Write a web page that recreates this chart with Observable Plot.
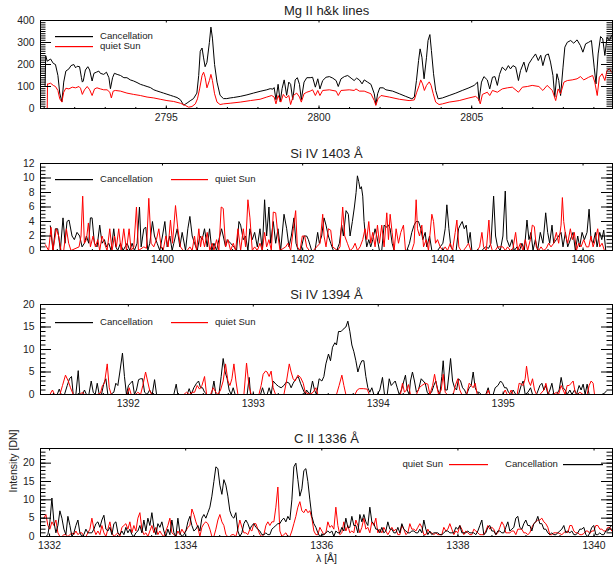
<!DOCTYPE html>
<html>
<head>
<meta charset="utf-8">
<script src="https://cdn.jsdelivr.net/npm/d3@7"></script>
<script src="https://cdn.jsdelivr.net/npm/@observablehq/plot@0.6"></script>
<style>
  html, body { margin: 0; padding: 0; background: #fff; }
  #wrap { width: 616px; }
  #wrap svg { display: block; }
</style>
</head>
<body>
<div id="wrap"></div>
<script>
// ---------------- DATA ----------------
// Mg II h&k : [wavelength Å, intensity DN]
const mgCanc = [[2791.03,100],[2791.05,240],[2791.10,215],[2791.21,225],[2791.30,205],[2791.37,200],[2791.45,150],[2791.51,70],[2791.58,30],[2791.64,120],[2791.71,170],[2791.81,180],[2791.88,195],[2791.97,200],[2792.03,185],[2792.08,192],[2792.16,190],[2792.22,140],[2792.25,120],[2792.28,125],[2792.35,175],[2792.43,190],[2792.49,175],[2792.57,125],[2792.63,160],[2792.71,165],[2792.79,170],[2792.84,160],[2792.95,155],[2793.04,165],[2793.12,140],[2793.17,90],[2793.24,140],[2793.30,160],[2793.39,155],[2793.50,150],[2793.61,140],[2793.71,140],[2793.82,130],[2793.93,125],[2794.04,118],[2794.15,110],[2794.26,105],[2794.37,100],[2794.48,95],[2794.59,85],[2794.69,80],[2794.80,75],[2794.91,70],[2795.02,65],[2795.13,60],[2795.24,55],[2795.35,50],[2795.46,40],[2795.57,15],[2795.68,25],[2795.78,35],[2795.89,45],[2796.00,70],[2796.06,150],[2796.11,260],[2796.17,275],[2796.22,230],[2796.27,190],[2796.33,210],[2796.41,300],[2796.46,370],[2796.51,320],[2796.58,200],[2796.66,120],[2796.76,60],[2796.87,45],[2796.98,45],[2797.09,48],[2797.20,50],[2797.42,55],[2797.64,62],[2797.85,70],[2798.07,78],[2798.29,85],[2798.40,90],[2798.49,88],[2798.53,95],[2798.59,40],[2798.66,110],[2798.73,30],[2798.79,90],[2798.86,130],[2798.94,60],[2799.01,120],[2799.07,110],[2799.14,40],[2799.22,130],[2799.29,140],[2799.36,110],[2799.42,40],[2799.51,120],[2799.60,140],[2799.71,140],
[2799.79,142],[2799.88,97],[2799.96,135],[2800.03,89],[2800.12,127],[2800.23,142],[2800.34,145],[2800.45,138],[2800.56,127],[2800.63,100],[2800.72,135],[2800.83,145],[2800.94,150],[2801.05,138],[2801.15,127],[2801.23,138],[2801.32,130],[2801.41,112],[2801.48,130],[2801.59,120],[2801.70,110],[2801.81,67],[2801.86,18],[2801.92,67],[2801.99,94],[2802.10,94],[2802.19,85],[2802.41,79],[2802.63,67],[2802.84,55],[2803.04,44],[2803.12,52],[2803.19,127],[2803.26,218],[2803.31,271],[2803.37,233],[2803.44,135],[2803.52,233],[2803.57,309],[2803.63,336],[2803.68,264],[2803.75,158],[2803.82,82],[2803.90,44],[2804.04,48],[2804.26,59],[2804.48,70],[2804.69,82],[2804.91,94],[2805.08,105],[2805.19,120],[2805.24,36],[2805.32,120],[2805.40,145],[2805.51,130],[2805.59,89],[2805.68,142],[2805.76,145],[2805.84,105],[2805.91,155],[2806.00,188],[2806.11,173],[2806.20,195],[2806.27,180],[2806.35,195],[2806.44,188],[2806.53,127],[2806.60,173],[2806.71,211],[2806.79,165],[2806.87,203],[2806.98,227],[2807.09,248],[2807.18,218],[2807.26,242],[2807.33,195],[2807.42,242],[2807.51,248],[2807.58,211],[2807.66,150],[2807.72,52],[2807.79,158],[2807.85,127],[2807.91,59],[2807.99,188],[2808.05,279],[2808.13,301],[2808.24,309],[2808.34,297],[2808.45,312],[2808.56,286],[2808.64,256],[2808.73,294],[2808.83,301],[2808.92,309],[2809.01,188],[2809.07,112],[2809.14,248],[2809.22,327],[2809.29,317],[2809.36,241],[2809.43,324],[2809.51,309],[2809.58,332]];

const mgQuiet = [[2791.10,0],[2791.11,112],[2791.15,112],[2791.21,115],[2791.30,105],[2791.37,100],[2791.45,82],[2791.51,44],[2791.58,29],[2791.64,74],[2791.71,92],[2791.81,89],[2791.92,97],[2792.03,94],[2792.14,100],[2792.19,92],[2792.25,64],[2792.32,85],[2792.41,100],[2792.49,85],[2792.57,59],[2792.65,89],[2792.73,94],[2792.84,89],[2792.95,85],[2793.06,85],[2793.15,74],[2793.20,48],[2793.26,79],[2793.33,82],[2793.50,79],[2793.71,70],[2793.93,64],[2794.15,59],[2794.37,52],[2794.59,48],[2794.80,42],[2795.02,36],[2795.24,32],[2795.46,24],[2795.62,14],[2795.73,6],[2795.84,9],[2795.95,21],[2796.02,44],[2796.09,89],[2796.17,150],[2796.22,165],[2796.27,142],[2796.33,94],[2796.41,127],[2796.46,155],[2796.51,127],[2796.58,67],[2796.66,29],[2796.76,18],[2796.87,21],[2797.09,24],[2797.42,29],[2797.75,36],[2798.07,42],[2798.29,52],[2798.45,59],[2798.53,52],[2798.59,21],[2798.66,59],[2798.75,29],[2798.83,64],[2798.92,48],[2799.01,59],[2799.07,18],[2799.16,59],[2799.27,70],[2799.36,52],[2799.42,29],[2799.51,67],[2799.60,74],[2799.71,79],
[2799.79,85],[2799.88,59],[2799.96,82],[2800.03,59],[2800.12,82],[2800.34,85],[2800.56,79],[2800.63,59],[2800.72,82],[2800.99,85],[2801.15,82],[2801.21,89],[2801.32,79],[2801.48,79],[2801.70,67],[2801.81,36],[2801.86,14],[2801.93,44],[2802.03,59],[2802.30,52],[2802.63,42],[2802.95,36],[2803.12,39],[2803.20,74],[2803.28,105],[2803.33,130],[2803.39,112],[2803.45,82],[2803.52,105],[2803.61,121],[2803.67,105],[2803.74,67],[2803.82,29],[2803.93,18],[2804.04,21],[2804.26,29],[2804.59,36],[2804.91,48],[2805.13,55],[2805.22,44],[2805.28,21],[2805.35,64],[2805.51,74],[2805.59,59],[2805.68,82],[2805.84,74],[2806.00,89],[2806.17,94],[2806.33,97],[2806.53,74],[2806.66,97],[2806.82,100],[2806.98,105],[2807.20,100],[2807.33,82],[2807.47,105],[2807.64,82],[2807.75,36],[2807.83,89],[2807.91,67],[2808.02,120],[2808.13,127],[2808.29,130],[2808.45,135],[2808.56,145],[2808.67,130],[2808.83,142],[2808.96,150],[2809.03,120],[2809.11,59],[2809.18,142],[2809.27,158],[2809.36,127],[2809.43,173],[2809.51,180],[2809.58,165]];

// Si IV 1403 : [wavelength Å, intensity DN]
const si1403Canc = [[1398.400,3.4],[1398.438,0],[1398.472,3],[1398.505,3],[1398.543,0],[1398.581,4.5],[1398.610,1],[1398.638,4],[1398.667,4.2],[1398.710,2],[1398.743,1.5],[1398.781,2.5],[1398.819,2],[1398.853,0.5],[1398.886,1],[1398.915,2],[1398.948,1],[1398.972,4.5],[1398.996,4.5],[1399.029,1],[1399.067,0.5],[1399.105,3.5],[1399.138,1],[1399.172,1.5],[1399.200,0.5],[1399.234,1],[1399.267,0],[1399.305,3],[1399.334,0.5],[1399.362,0],[1399.400,1],[1399.438,0],[1399.496,1],[1399.534,0],[1399.567,1],[1399.600,0],[1399.638,1],[1399.672,6],[1399.696,0.5],[1399.734,3],[1399.762,3.2],[1399.791,0],[1399.819,1],[1399.857,4],[1399.886,2],[1399.924,1],[1399.962,0],[1400.000,2],[1400.034,4],[1400.067,0.5],[1400.105,2],[1400.138,0],[1400.162,1],[1400.210,3],[1400.248,0.5],[1400.281,2.5],[1400.329,0],[1400.362,3],[1400.391,4.7],[1400.424,2],[1400.457,1],[1400.496,0],[1400.534,2],[1400.567,1.5],[1400.600,3],[1400.638,0.5],[1400.672,3],[1400.705,0],[1400.734,1],[1400.772,0],[1400.805,1.5],[1400.843,3],[1400.867,2],[1400.900,0.5],[1400.924,1.5],[1400.972,1],[1401.019,0.5],[1401.057,0],[1401.091,4],[1401.115,3.5],[1401.153,1.5],[1401.186,2],[1401.219,0],[1401.248,3],[1401.281,1.5],[1401.315,2.5],[1401.353,0.5],[1401.391,3],[1401.424,0],[1401.457,7],[1401.486,2],[1401.519,6],[1401.543,1],[1401.581,4],[1401.615,1],[1401.648,3],[1401.686,0],[1401.734,5],[1401.772,3],[1401.805,0.5],[1401.838,2],[1401.876,4.5],[1401.905,1],[1401.938,0],[1401.972,0],[1402.019,2],[1402.057,2],
[1402.081,1.5],[1402.128,0],[1402.176,0],[1402.214,2.5],[1402.238,1],[1402.271,2],[1402.305,4.5],[1402.333,3.5],[1402.367,2],[1402.400,1],[1402.438,0],[1402.486,0],[1402.524,1],[1402.557,3.5],[1402.581,2],[1402.619,5.5],[1402.652,5],[1402.676,2],[1402.709,4],[1402.738,6],[1402.762,8],[1402.781,10.3],[1402.800,9.5],[1402.819,8.5],[1402.838,8.8],[1402.857,7.5],[1402.876,4],[1402.895,2],[1402.914,0.5],[1402.943,1.5],[1402.971,0.5],[1403.000,1.5],[1403.033,3],[1403.057,2],[1403.095,0],[1403.128,0],[1403.162,3.5],[1403.190,3.2],[1403.224,3.5],[1403.248,3],[1403.276,1],[1403.305,0],[1403.486,0],[1403.524,1],[1403.557,2.5],[1403.590,3.5],[1403.619,4],[1403.652,4],[1403.686,3],[1403.714,1.5],[1403.748,2.5],[1403.771,0.5],[1403.810,2],[1403.843,0],[1403.924,0],[1403.962,0.5],[1404.000,1],[1404.033,3],[1404.057,6.3],[1404.086,3],[1404.114,0.5],[1404.152,0],[1404.190,0],[1404.224,3],[1404.248,3.5],[1404.276,4],[1404.305,3],[1404.333,3.5],[1404.362,1],[1404.390,2.5],[1404.414,0],[1404.557,0],[1404.605,0.5],[1404.652,0.3],[1404.686,1],[1404.724,7.5],[1404.752,2],[1404.781,0.5],[1404.819,0],[1404.857,2],[1404.890,8.2],[1404.914,1.5],[1404.952,0.5],[1404.986,1.5],[1405.019,0],[1405.057,0.5],[1405.095,0],[1405.128,1],[1405.162,0],[1405.200,4.2],[1405.228,1.5],[1405.257,2.5],[1405.286,0],[1405.319,1.5],[1405.352,0],[1405.390,2.5],[1405.428,1],[1405.467,5.2],[1405.495,2.5],[1405.524,1],[1405.557,3.5],[1405.581,1],[1405.619,1.5],[1405.652,2],[1405.686,2.5],[1405.714,0.5],[1405.748,2.5],[1405.781,0.5],[1405.819,1.5],[1405.857,2.5],[1405.890,0],[1405.924,2],[1405.952,0.5],[1405.986,2.5],[1406.019,1.5],[1406.057,2.5],[1406.086,5.7],[1406.114,1.5],[1406.143,1],[1406.176,2.5],[1406.200,0.5],[1406.238,2.5],[1406.267,1.5],[1406.295,2.8],[1406.324,0]];

const si1403Quiet = [[1398.329,0.8],[1398.376,0],[1398.410,3.2],[1398.438,0],[1398.486,3],[1398.519,2],[1398.553,0],[1398.591,0],[1398.629,3],[1398.662,1],[1398.695,0],[1398.810,0.5],[1398.838,2],[1398.862,7.5],[1398.886,1],[1398.915,1.5],[1398.943,3.8],[1398.972,0.5],[1399.010,2],[1399.043,0.5],[1399.077,1.5],[1399.105,0],[1399.138,2],[1399.172,1],[1399.210,0],[1399.248,3],[1399.281,0],[1399.315,2],[1399.343,0.5],[1399.376,3],[1399.410,0],[1399.448,3],[1399.486,0],[1399.524,3],[1399.553,0],[1399.591,0.5],[1399.629,6],[1399.657,0],[1399.734,0.5],[1399.772,0.3],[1399.805,7.2],[1399.838,1],[1399.876,0.5],[1399.914,1.5],[1399.948,3],[1399.981,0.5],[1400.010,0],[1400.048,2],[1400.081,0.5],[1400.114,4.2],[1400.143,1],[1400.186,6.2],[1400.219,3],[1400.257,0.5],[1400.295,0],[1400.352,0],[1400.391,0.5],[1400.424,0],[1400.457,2],[1400.486,0],[1400.519,3],[1400.543,0.5],[1400.567,2],[1400.600,0.5],[1400.638,2.5],[1400.676,0],[1400.710,1],[1400.734,0],[1400.772,1.5],[1400.805,0],[1400.838,6],[1400.867,5.8],[1400.900,0.5],[1400.934,1.5],[1400.972,0],[1401.010,1],[1401.043,0],[1401.077,3],[1401.115,0],[1401.153,3],[1401.186,0.5],[1401.219,7],[1401.248,4.5],[1401.281,0],[1401.315,0.5],[1401.353,0],[1401.391,1],[1401.424,0],[1401.457,2.5],[1401.486,0.5],[1401.519,1.5],[1401.553,0],[1401.581,5.3],[1401.615,5.2],[1401.648,2],[1401.677,0],[1401.757,0.5],[1401.791,1],[1401.829,0],[1401.867,3],[1401.900,5.5],[1401.924,0.5],[1401.962,0],[1401.995,2],[1402.029,2],[1402.057,0.5],
[1402.095,0],[1402.152,0],[1402.200,0.5],[1402.248,1],[1402.286,5],[1402.305,2],[1402.333,0.5],[1402.367,3],[1402.400,2.8],[1402.428,0.5],[1402.495,0],[1402.533,0.5],[1402.571,6],[1402.600,2],[1402.638,1],[1402.676,0],[1402.714,0.3],[1402.748,1],[1402.781,0],[1402.819,0.5],[1402.857,1.5],[1402.890,3],[1402.914,1.5],[1402.943,4],[1402.971,1],[1403.000,2.5],[1403.033,0.5],[1403.067,3.5],[1403.095,1],[1403.128,3.5],[1403.162,0.5],[1403.200,5.2],[1403.224,1.5],[1403.248,5],[1403.276,2.5],[1403.305,0],[1403.333,3],[1403.367,1],[1403.400,2.5],[1403.438,3.5],[1403.467,0],[1403.557,0],[1403.590,1],[1403.619,7],[1403.638,3],[1403.667,2],[1403.700,3.5],[1403.724,0.5],[1403.762,1.5],[1403.795,0],[1403.843,5],[1403.867,4],[1403.895,1],[1403.924,1.5],[1403.962,0.5],[1404.000,0],[1404.033,0.5],[1404.067,0],[1404.105,1],[1404.138,0],[1404.176,2.5],[1404.200,4.2],[1404.228,0.5],[1404.257,0],[1404.295,0],[1404.333,0.5],[1404.367,1],[1404.400,0],[1404.486,0],[1404.524,0.5],[1404.557,2.5],[1404.581,0.5],[1404.619,0],[1404.657,4.2],[1404.676,1],[1404.705,0],[1404.748,0],[1404.781,0.5],[1404.819,0.5],[1404.857,0.5],[1404.890,0],[1404.924,0.5],[1404.962,0],[1405.000,0.3],[1405.038,2.5],[1405.067,0],[1405.105,1],[1405.143,0],[1405.176,1.5],[1405.209,0],[1405.248,1.5],[1405.276,3.5],[1405.305,3.3],[1405.333,0.5],[1405.367,0],[1405.400,0.5],[1405.438,0],[1405.476,0.3],[1405.509,1],[1405.543,0.5],[1405.581,1],[1405.619,2.5],[1405.652,1],[1405.686,3.5],[1405.705,7.3],[1405.724,4],[1405.752,2],[1405.781,1],[1405.819,3],[1405.848,1.5],[1405.876,2.5],[1405.905,0],[1405.938,1],[1405.971,0.5],[1406.009,1.5],[1406.048,0.5],[1406.081,0.5],[1406.114,2],[1406.143,0.5],[1406.176,1.5],[1406.209,3],[1406.238,0.5],[1406.271,1],[1406.305,0]];

// Si IV 1394 : [wavelength Å, intensity DN]
const si1394Canc = [[1391.431,0],[1391.447,1.2],[1391.463,0],[1391.489,0],[1391.511,2],[1391.529,3.5],[1391.545,4],[1391.559,0],[1391.580,0],[1391.599,5.3],[1391.612,0],[1391.633,0],[1391.649,1],[1391.665,0],[1391.684,0],[1391.703,3],[1391.719,0.5],[1391.735,0],[1391.751,2.5],[1391.767,0],[1391.785,0],[1391.804,2.5],[1391.820,3.5],[1391.836,0],[1391.857,0],[1391.884,0.5],[1391.900,2.5],[1391.916,2],[1391.932,5],[1391.953,9.2],[1391.969,4],[1391.985,0],[1392.001,2],[1392.017,2.5],[1392.033,3],[1392.049,0],[1392.065,1],[1392.082,3.3],[1392.098,3.5],[1392.114,3.5],[1392.130,0.5],[1392.151,0],[1392.170,1],[1392.191,0],[1392.210,3.3],[1392.226,0],[1392.364,0],[1392.383,2.3],[1392.396,0],[1392.471,0],[1392.487,1.3],[1392.503,0],[1392.524,1.5],[1392.546,2.5],[1392.562,3],[1392.578,1.5],[1392.594,1.5],[1392.610,0.5],[1392.631,0],[1392.666,0],[1392.685,3],[1392.701,0],[1392.725,0],[1392.743,4],[1392.759,8],[1392.775,5],[1392.791,3.5],[1392.807,1],[1392.823,0],[1392.839,1.5],[1392.855,0],[1392.951,0],[1392.967,3.8],[1392.978,0],[1393.058,0],[1393.074,1.5],[1393.090,0],[1393.111,0],[1393.127,1.5],[1393.143,0],[1393.159,3],[1393.181,2.3],[1393.202,1.8],[1393.223,1.5],[1393.245,2],[1393.266,2.8],[1393.288,2.5],[1393.303,1.5],[1393.319,2.5],[1393.341,3.5],[1393.360,4],[1393.378,2.5],[1393.400,1],[1393.416,0],
[1393.426,1],[1393.453,0],[1393.474,3],[1393.490,1],[1393.506,0],[1393.527,3.5],[1393.549,3],[1393.565,4],[1393.581,6.8],[1393.602,9],[1393.618,7.5],[1393.634,10.5],[1393.653,11.5],[1393.666,11],[1393.682,14],[1393.703,14],[1393.719,14.5],[1393.741,15],[1393.757,16.3],[1393.773,14],[1393.789,11],[1393.805,9.5],[1393.821,7.5],[1393.837,5],[1393.853,6.5],[1393.869,7.5],[1393.885,7.5],[1393.901,4],[1393.917,1.5],[1393.933,0.5],[1393.949,1.5],[1393.965,0],[1393.992,0],[1394.013,1],[1394.034,3.8],[1394.050,0],[1394.072,0],[1394.088,3.5],[1394.104,2],[1394.120,2.5],[1394.136,3],[1394.152,1.5],[1394.168,0],[1394.186,1],[1394.205,3],[1394.218,4.3],[1394.232,1],[1394.248,0],[1394.258,3],[1394.274,5],[1394.290,3],[1394.306,0.5],[1394.322,1],[1394.344,3.5],[1394.360,3],[1394.376,2.5],[1394.392,0.5],[1394.408,0],[1394.427,0.5],[1394.445,2],[1394.461,3],[1394.477,1],[1394.493,0],[1394.509,4],[1394.520,7.5],[1394.536,1],[1394.552,1],[1394.568,5],[1394.579,8],[1394.595,3],[1394.611,1.5],[1394.627,1],[1394.643,3.5],[1394.659,3],[1394.675,1.5],[1394.691,1],[1394.707,0],[1394.728,1.5],[1394.744,2],[1394.760,5],[1394.776,1.5],[1394.792,0.5],[1394.808,0.5],[1394.824,0],[1394.861,0],[1394.880,1.5],[1394.893,0],[1394.920,0],[1394.936,1.5],[1394.958,2],[1394.979,3],[1394.995,2.5],[1395.011,1.5],[1395.027,1.5],[1395.043,0.5],[1395.059,0],[1395.080,1],[1395.101,0],[1395.123,0],[1395.144,2],[1395.160,3],[1395.176,0],[1395.198,0.5],[1395.219,1.5],[1395.235,0],[1395.267,0],[1395.294,2],[1395.310,2.5],[1395.326,1],[1395.342,2],[1395.358,0],[1395.374,1],[1395.390,2.5],[1395.406,0],[1395.427,0],[1395.448,1],[1395.464,3.8],[1395.480,1.5],[1395.496,1],[1395.512,0],[1395.534,1],[1395.550,0],[1395.571,1],[1395.587,0],[1395.608,2],[1395.624,1],[1395.640,2.3],[1395.656,0],[1395.672,2.3],[1395.688,0],[1395.800,0],[1395.827,0.8]];

const si1394Quiet = [[1391.372,0],[1391.393,1],[1391.409,0],[1391.452,0],[1391.473,2],[1391.497,4.3],[1391.519,3],[1391.537,1.5],[1391.559,0],[1391.612,0],[1391.633,0.5],[1391.649,0],[1391.751,0],[1391.777,0.3],[1391.793,2],[1391.809,2.5],[1391.831,6.8],[1391.847,1.5],[1391.863,0],[1391.991,0],[1392.007,1.5],[1392.023,0],[1392.058,0],[1392.076,0.5],[1392.098,0],[1392.116,2],[1392.138,5],[1392.154,3],[1392.170,1],[1392.186,0],[1392.444,0],[1392.466,0.5],[1392.487,0],[1392.511,0.5],[1392.530,0.5],[1392.551,2],[1392.570,1.2],[1392.589,2],[1392.610,4],[1392.626,0],[1392.658,0],[1392.679,1.5],[1392.701,0.5],[1392.717,0],[1392.738,1],[1392.759,3],[1392.778,6.8],[1392.797,3],[1392.813,2],[1392.829,3.5],[1392.845,6.8],[1392.861,3],[1392.877,0],[1392.925,0],[1392.946,7],[1392.965,2],[1392.983,0],[1393.045,0],[1393.063,2],[1393.079,4.5],[1393.098,5.2],[1393.111,5],[1393.127,4],[1393.143,5.2],[1393.159,1.5],[1393.178,0],[1393.245,0],[1393.266,3],[1393.288,6.8],[1393.303,5],[1393.319,3.5],[1393.335,3],[1393.357,4.3],[1393.378,3.8],[1393.400,2.5],[1393.416,0.5],
[1393.453,0],[1393.479,0.5],[1393.501,1.5],[1393.517,0],[1393.666,0],[1393.687,2],[1393.709,4.3],[1393.725,2],[1393.741,0],[1393.813,0],[1393.832,1],[1393.848,1.3],[1393.880,1.3],[1393.912,1.2],[1393.928,0],[1394.178,0],[1394.194,2.5],[1394.210,0.5],[1394.226,1],[1394.242,2.2],[1394.258,0],[1394.306,0],[1394.328,1.5],[1394.349,2],[1394.376,2.5],[1394.397,2.3],[1394.413,0],[1394.435,2],[1394.451,4.5],[1394.467,2],[1394.483,0],[1394.504,1],[1394.520,4.5],[1394.536,0.5],[1394.552,0],[1394.600,0],[1394.621,2.3],[1394.637,3.5],[1394.653,1],[1394.669,0],[1394.707,0],[1394.728,2.5],[1394.744,2],[1394.760,1.5],[1394.776,2.5],[1394.792,0],[1394.867,0],[1394.880,1],[1394.893,0],[1394.998,0],[1395.016,1],[1395.032,0],[1395.048,0],[1395.064,1],[1395.080,0],[1395.112,0],[1395.128,2.5],[1395.144,2.3],[1395.160,2],[1395.176,3.5],[1395.187,6.3],[1395.203,3],[1395.219,2],[1395.235,3.5],[1395.251,1],[1395.267,0],[1395.294,0],[1395.326,1],[1395.342,2.5],[1395.358,0.5],[1395.374,0],[1395.400,0],[1395.427,0.5],[1395.443,0],[1395.464,2],[1395.480,1],[1395.496,0],[1395.512,2],[1395.528,2],[1395.544,2.5],[1395.560,3],[1395.576,0.5],[1395.592,0],[1395.614,0.5],[1395.640,0],[1395.672,0],[1395.688,2],[1395.704,3],[1395.720,2.5],[1395.731,0]];

// C II 1336 : intensities on the detector's wavelength grid
const c2Start = 1331.917;   // Å, first pixel
const c2Step = 0.02938;     // Å per pixel
const c2Canc = [0,0,0.5,4,10.5,4,1,3,7,5, 2,0.5,5.5,3,0,1,3,4.5,1,0, 0.5,2,1,1,1,2,3.5,4,2.5,4.5, 5.8,2,1.5,2.5,0.5,3.5,4,1,0.5,1.5, 0.5,2.5,1,2,0.5,0,1,1.5,3,1, 4.5,1.5,5,3,6.5,2.5,0.5,3.5,2.5,4, 1.5,0,2,0.5,4.5,1,0,5,1,0, 0.5,1.5,4,5.5,3,1.5,2,3,1.5,5, 6,5,6.5,8,11,15,19,18.5,14,11.5, 15.5,14,11,7,5.5,5,6.5,1.5,0,1, 3.5,4.5,3.5,2,3,3.5,2.5,2,1.5,0.5, 0.5,1,0.5,0.5,2,2.5,3,3.5,3.5,4.5, 5,4,5.5,4.5,10,19,20,15.5,11,13, 18,18.5,15,10,
5.5,3.5,2.5,1,0,0.5,0.5,1,1.5,1, 1.5,0,1.5,1,1,2.5,1.5,5,2.5,2.5, 5.5,3,3,1,6,4,6,4,3,8, 4,3.5,2,2,1,2.5,1,1.5,4,2, 2,1,1,2.5,1,3.5,2,1.5,1,1, 1.5,1.5,1,1,2,1,4.5,2,0.5,1.5, 0.5,1,1,1,0.5,0.5,1,1.5,1.5,1, 1,1,2.5,2,3,1,1,1,1.5,1, 1,1,0.5,1.5,3,4.5,0.5,1,2.5,3, 1.5,1.5,0.5,1.5,1.5,1,1,2.5,4,1.5, 2,2.5,5,5.5,2.5,2,3.5,4.5,3,3, 1.5,3.5,4,5.5,3.5,3.5,2,2,1,0.5, 1,0.5,0.5,1,1.5,2,3,1,1.5,1, 1.5,0.5,0.5,1,2,2,2.5,0.5,0,1, 2.5,3,0.5,0.5,1,0.5,0.5,1.5,1.5,2.5, 3];
const c2Quiet = [5,6,3,2,4,3,4.5,1,0,0, 0.5,0.5,0,0.5,1,0.5,1.5,0.5,1,1, 0,0,1,2,5,2,0.5,1.5,0.5,3, 1,0,2,4,1,0,0.5,1,0,2.5, 3,3.5,2,4,1,3,1.5,5,6.5,2, 0.5,1,0,1.5,3,1,2.5,0.5,1.5,0.5, 0,1.5,3,5,1,0.5,0,1.5,0.5,2, 1,1.5,2.5,3,7.5,6,4,2.5,0,2.5, 3.5,4,3.5,2,0,0,2,4.5,6,4, 3,0.5,0,0,0.5,0.5,0,2,4.5,2.5, 1,1,0.5,2,1.5,3.5,3.5,2,0.5,0, 0.5,3,4,3,4,4,8,13.5,1.5,0, 0.5,1,0,0,1.5,3.5,5.5,8,9.5,7, 6.5,7.5,6.5,7,
5,1.5,0.5,0.5,2.5,1.5,0.5,1,4,2.5, 3,2,8,3,0.5,1,4,1.5,3,1, 1.5,1,4.5,3,1,2.5,5,2,2.5,1, 4,3,5,1,2,1,2.5,1.5,0.5,1.5, 2.5,1.5,2,0.5,0.5,3,2,0.5,1,3.5, 2,2,1.5,2.5,3.5,2.5,0.5,0.5,2,1, 1,0.5,1,0.5,0.5,0.5,2.5,1.5,2,3.5, 2,0.5,1.5,1,3,2,0.5,1.5,1,0.5, 0.5,2,1.5,1,0.5,0.5,0.5,1.5,3,2, 2.5,2,0.5,1,2.5,4,3,1,1,1, 1.5,1.5,0.5,2,2,2,1,1,0.5,1, 2.5,3.5,4,4.5,4.5,5,4,3.5,2.5,0.5, 0.5,1,1,1,0.8,0.5,1,1.5,1,3, 3,1.5,1,1,0.5,0.5,0.8,1.5,1.5,0.8, 1.5,1.5,3,3,2,2,1.5,1.5,2.5,2.5, 1.5];

// Axis tick labels
const mgXTicks = [2795, 2800, 2805];
const mgYTicks = [0, 100, 200, 300, 400];
const si1403XTicks = [1400, 1402, 1404, 1406];
const si1403YTicks = [0, 2, 4, 6, 8, 10, 12];
const si1394XTicks = [1392, 1393, 1394, 1395];
const si1394YTicks = [0, 5, 10, 15, 20];
const c2XTicks = [1332, 1334, 1336, 1338, 1340];
const c2YTicks = [0, 5, 10, 15, 20];

// ---------------- DRAWING ----------------
const FONT = "'Liberation Sans', Arial, Helvetica, sans-serif";
const W = 616, ML = 40, MR = 4, MB = 32;
const FW = W - ML - MR;

const c2CancPairs = c2Canc.map((v, i) => [c2Start + i * c2Step, v]);
const c2QuietPairs = c2Quiet.map((v, i) => [c2Start + i * c2Step, v]);

function minorTicks(domain, step) {
  const a = Math.ceil(domain[0] / step - 1e-9), b = Math.floor(domain[1] / step + 1e-9);
  return d3.range(a, b + 1).map(k => +(k * step).toFixed(6));
}

function panel(cfg) {
  const fh = cfg.height - cfg.marginTop - MB;
  const xMinor = minorTicks(cfg.xDomain, cfg.xMinorStep);
  const yMinor = minorTicks(cfg.yDomain, cfg.yMinorStep);
  const xMajor = minorTicks(cfg.xDomain, cfg.xMajorStep);
  const yMajor = cfg.yTicks;
  const lineOpt = {x: d => d[0], y: d => d[1], strokeWidth: 1, clip: true, strokeLinejoin: "miter"};
  const lines = cfg.series.map(s => Plot.line(s.data, {...lineOpt, stroke: s.color}));
  const marks = [
    ...lines,
    Plot.tickX(xMinor, {x: d => d, insetTop: fh - 1, stroke: "black", strokeWidth: 1}),
    Plot.tickX(xMinor, {x: d => d, insetBottom: fh - 1, stroke: "black", strokeWidth: 1}),
    Plot.tickX(xMajor, {x: d => d, insetTop: fh - 2.5, stroke: "black", strokeWidth: 1}),
    Plot.tickX(xMajor, {x: d => d, insetBottom: fh - 2.5, stroke: "black", strokeWidth: 1}),
    Plot.tickY(yMinor, {y: d => d, insetRight: FW - 5.5, stroke: "black", strokeWidth: 1}),
    Plot.tickY(yMinor, {y: d => d, insetLeft: FW - 5.5, stroke: "black", strokeWidth: 1}),
    Plot.tickY(yMajor, {y: d => d, insetRight: FW - 11, stroke: "black", strokeWidth: 1}),
    Plot.tickY(yMajor, {y: d => d, insetLeft: FW - 11, stroke: "black", strokeWidth: 1}),
    Plot.frame({stroke: "black", strokeWidth: 1}),
    Plot.axisX({ticks: cfg.xTicks, anchor: "bottom", tickSize: 0, tickPadding: 5, tickFormat: d => String(d), label: null, fontSize: 10.4}),
    Plot.axisY({ticks: cfg.yTicks, anchor: "left", tickSize: 0, tickPadding: 6, tickFormat: d => String(d), label: null, fontSize: 10.4}),
    Plot.text([cfg.title], {text: d => d, frameAnchor: "top", lineAnchor: "middle", dy: -10, fontSize: 13, fill: "#222"})
  ];
  if (cfg.yLabel) marks.push(Plot.text([cfg.yLabel], {text: d => d, frameAnchor: "left", lineAnchor: "middle", dx: -27, rotate: -90, fontSize: 10.5, fill: "#222"}));
  if (cfg.xLabel) marks.push(Plot.text([cfg.xLabel], {text: d => d, frameAnchor: "bottom", lineAnchor: "middle", dy: 22, fontSize: 10.5, fill: "#222"}));

  const svg = Plot.plot({
    width: W, height: cfg.height,
    marginLeft: ML, marginRight: MR, marginTop: cfg.marginTop, marginBottom: MB,
    x: {domain: cfg.xDomain},
    y: {domain: cfg.yDomain},
    style: {fontFamily: FONT, fontSize: "10.4px", color: "#222", background: "white", overflow: "visible"},
    marks
  });

  // legend (inside the frame, IDL style)
  const g = d3.select(svg).append("g")
    .attr("font-family", FONT).attr("font-size", 9.6);
  cfg.legend.forEach(it => {
    const y = Math.round(cfg.marginTop + it.dy);
    g.append("rect").attr("x", it.x1).attr("y", y).attr("width", it.x2 - it.x1).attr("height", 1.2)
      .attr("fill", it.color).attr("stroke", "none");
    g.append("text").attr("x", it.tx).attr("y", y).attr("dy", "0.35em").attr("fill", "#222")
      .attr("text-anchor", it.anchor || "start").text(it.label);
  });
  return svg;
}

const wrap = document.getElementById("wrap");

wrap.appendChild(panel({
  height: 140, marginTop: 20,
  xDomain: [2790.88, 2809.61], yDomain: [0, 400],
  xTicks: mgXTicks, yTicks: mgYTicks, xMajorStep: 5, xMinorStep: 1, yMinorStep: 10,
  title: "Mg II h&k lines",
  series: [{data: mgCanc, color: "black"}, {data: mgQuiet, color: "#ff0000"}],
  legend: [
    {label: "Cancellation", color: "#000000", x1: 55, x2: 93, tx: 100, dy: 16},
    {label: "quiet Sun", color: "#ff0000", x1: 55, x2: 93, tx: 100, dy: 26}
  ]
}));

wrap.appendChild(panel({
  height: 142, marginTop: 23,
  xDomain: [1398.26, 1406.42], yDomain: [0, 12],
  xTicks: si1403XTicks, yTicks: si1403YTicks, xMajorStep: 2, xMinorStep: 0.5, yMinorStep: 0.5,
  title: "Si IV 1403 Å",
  series: [{data: si1403Canc, color: "black"}, {data: si1403Quiet, color: "#ff0000"}],
  legend: [
    {label: "Cancellation", color: "#000000", x1: 55, x2: 93, tx: 100, dy: 16},
    {label: "quiet Sun", color: "#ff0000", x1: 171, x2: 208, tx: 215, dy: 16}
  ]
}));

wrap.appendChild(panel({
  height: 144, marginTop: 22,
  xDomain: [1391.297, 1395.875], yDomain: [0, 20],
  xTicks: si1394XTicks, yTicks: si1394YTicks, xMajorStep: 1, xMinorStep: 0.2, yMinorStep: 1,
  title: "Si IV 1394 Å",
  series: [{data: si1394Canc, color: "black"}, {data: si1394Quiet, color: "#ff0000"}],
  legend: [
    {label: "Cancellation", color: "#000000", x1: 55, x2: 93, tx: 100, dy: 17.5},
    {label: "quiet Sun", color: "#ff0000", x1: 171, x2: 208, tx: 215, dy: 17.5}
  ]
}));

wrap.appendChild(panel({
  height: 142, marginTop: 22,
  xDomain: [1331.867, 1340.271], yDomain: [0, 24],
  xTicks: c2XTicks, yTicks: c2YTicks, xMajorStep: 2, xMinorStep: 0.5, yMinorStep: 1,
  title: "C II 1336 Å",
  yLabel: "Intensity [DN]", xLabel: "λ [Å]",
  series: [{data: c2QuietPairs, color: "#ff0000"}, {data: c2CancPairs, color: "black"}],
  legend: [
    {label: "quiet Sun", color: "#ff0000", x1: 449, x2: 488, tx: 443, anchor: "end", dy: 16},
    {label: "Cancellation", color: "#000000", x1: 563, x2: 603, tx: 505, dy: 16}
  ]
}));
</script>
</body>
</html>
